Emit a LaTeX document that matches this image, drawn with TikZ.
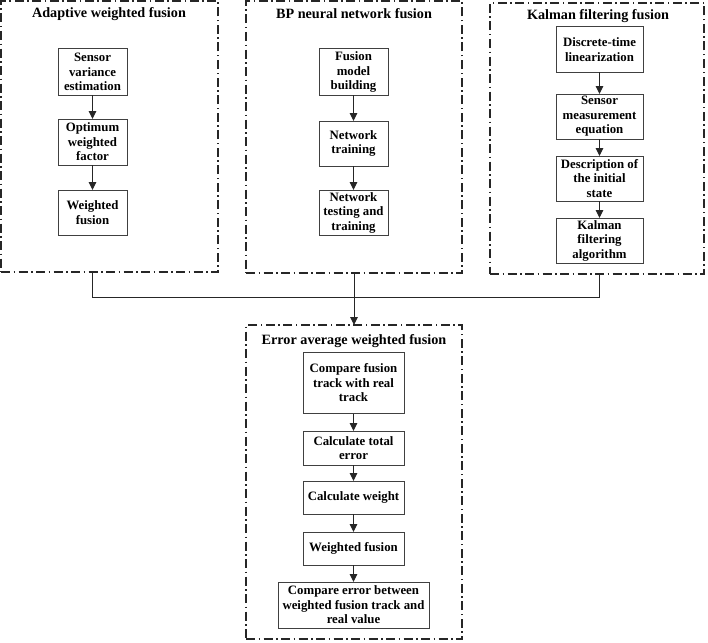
\documentclass[tikz,border=0pt]{standalone}
\usepackage{fontspec}
\setmainfont{Liberation Serif}
\usetikzlibrary{arrows.meta}
\begin{document}
\begin{tikzpicture}[x=1pt,y=-1pt,
  stepbox/.style={draw=black!75, line width=1pt, align=center, inner sep=1pt, outer sep=0pt,
    font=\bfseries\fontsize{12.8}{14.5}\selectfont},
  frame/.style={draw=black!85, line width=1.1pt, dash pattern=on 9pt off 3.5pt on 1.5pt off 3.5pt,
    inner sep=0pt, outer sep=0pt},
  ttl/.style={font=\bfseries\fontsize{14.2}{16}\selectfont, inner sep=0pt},
  arr/.style={draw=black!85, line width=1pt, -{Triangle[length=8pt,width=7.5pt]}},
  conn/.style={draw=black!85, line width=1pt}]
\useasboundingbox (0,0) rectangle (708,642);
% frames
\node[frame, minimum width=217pt, minimum height=271pt] (fA) at (109.5,136.5) {};
\node[frame, minimum width=216pt, minimum height=272pt] (fB) at (354,137) {};
\node[frame, minimum width=214pt, minimum height=271pt] (fC) at (597,138.5) {};
\node[frame, minimum width=216pt, minimum height=314pt] (fD) at (354,482) {};
% titles
\node[ttl] (tA) at (109,14) {Adaptive weighted fusion};
\node[ttl] (tB) at (354,14) {BP neural network fusion};
\node[ttl] (tC) at (598,16) {Kalman filtering fusion};
\node[ttl] (tD) at (354,341) {Error average weighted fusion};
% left column
\node[stepbox, minimum width=69pt, minimum height=46pt] (L1) at (92.5,72) {Sensor\\variance\\estimation};
\node[stepbox, minimum width=69pt, minimum height=46pt] (L2) at (92.5,142) {Optimum\\weighted\\factor};
\node[stepbox, minimum width=69pt, minimum height=45pt] (L3) at (92.5,212.5) {Weighted\\fusion};
% middle column
\node[stepbox, minimum width=69pt, minimum height=46pt] (M1) at (353.5,72) {Fusion\\model\\building};
\node[stepbox, minimum width=69pt, minimum height=45pt] (M2) at (353.5,143.5) {Network\\training};
\node[stepbox, minimum width=69pt, minimum height=45pt] (M3) at (353.5,212.5) {Network\\testing and\\training};
% right column
\node[stepbox, minimum width=87pt, minimum height=45pt] (K1) at (599.5,49.5) {Discrete-time\\linearization};
\node[stepbox, minimum width=87pt, minimum height=45pt] (K2) at (599.5,116.5) {Sensor\\measurement\\equation};
\node[stepbox, minimum width=87pt, minimum height=45pt] (K3) at (599.5,178.5) {Description of\\the initial\\state};
\node[stepbox, minimum width=87pt, minimum height=45pt] (K4) at (599.5,240.5) {Kalman\\filtering\\algorithm};
% bottom column
\node[stepbox, minimum width=101pt, minimum height=61pt] (E1) at (353.5,383) {Compare fusion\\track with real\\track};
\node[stepbox, minimum width=101pt, minimum height=34pt] (E2) at (353.5,448) {Calculate total\\error};
\node[stepbox, minimum width=101pt, minimum height=33pt] (E3) at (353.5,497.5) {Calculate weight};
\node[stepbox, minimum width=101pt, minimum height=33pt] (E4) at (353.5,548.5) {Weighted fusion};
\node[stepbox, minimum width=151pt, minimum height=46pt] (E5) at (353.5,605) {Compare error between\\weighted fusion track and\\real value};
% inner arrows
\draw[arr] (L1) -- (L2);
\draw[arr] (L2) -- (L3);
\draw[arr] (M1) -- (M2);
\draw[arr] (M2) -- (M3);
\draw[arr] (K1) -- (K2);
\draw[arr] (K2) -- (K3);
\draw[arr] (K3) -- (K4);
\draw[arr] (E1) -- (E2);
\draw[arr] (E2) -- (E3);
\draw[arr] (E3) -- (E4);
\draw[arr] (E4) -- (E5);
% joining connectors
\coordinate (j) at (354,297);
\draw[conn] (fA.south -| L3.south) -- (L3.south |- j) -- (K4.south |- j) -- (fC.south -| K4.south);
\draw[arr] (fB.south) -- (fD.north);
\end{tikzpicture}
\end{document}
